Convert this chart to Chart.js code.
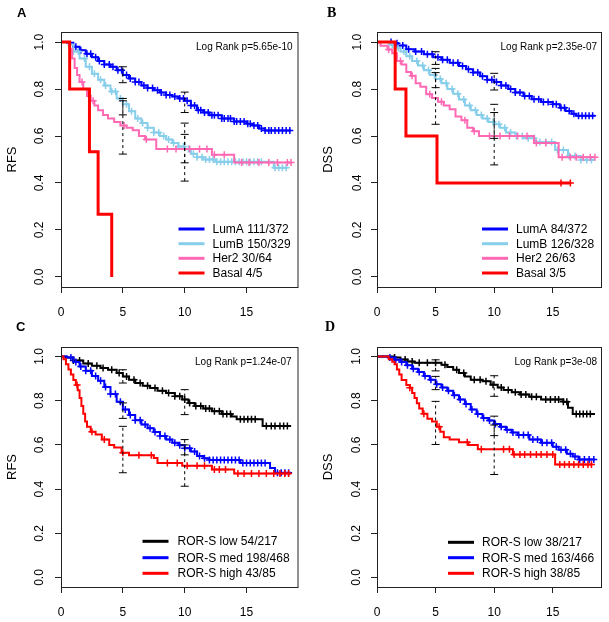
<!DOCTYPE html>
<html>
<head>
<meta charset="utf-8">
<script src="https://cdn.jsdelivr.net/npm/chart.js@4.4.1/dist/chart.umd.min.js"></script>
<style>
  body { margin: 0; background: #fff; }
  #wrap { position: relative; width: 609px; height: 622px; overflow: hidden; }
  canvas { position: absolute; }
</style>
</head>
<body>
<div id="wrap">
  <canvas id="cA" width="304" height="322" style="left:0;top:0"></canvas>
  <canvas id="cB" width="305" height="322" style="left:304px;top:0"></canvas>
  <canvas id="cC" width="304" height="311" style="left:0;top:311px"></canvas>
  <canvas id="cD" width="305" height="311" style="left:304px;top:311px"></canvas>
</div>
<script>
// ejes comunes
const xTicks = [0, 5, 10, 15];
const yTicks = [0, 0.2, 0.4, 0.6, 0.8, 1.0];
const ciTimes = [5, 10];

// Panel A - RFS por subtipo
const aLumATime = [0.5,1.0,1.5,2.0,2.5,3.0,3.5,4.0,4.5,5.0,5.5,6.0,6.5,7.0,7.5,8.0,8.5,9.0,9.5,10.0,10.5,11.0,11.5,12.0,13.0,14.0,15.0,15.5,16.0,16.5];
const aLumASurv = [0.997,0.98,0.965,0.95,0.935,0.92,0.905,0.895,0.88,0.86,0.845,0.83,0.815,0.805,0.795,0.785,0.775,0.768,0.76,0.75,0.73,0.71,0.70,0.688,0.675,0.662,0.652,0.645,0.632,0.624];
const aLumACens = [1.2,1.6,2.1,2.4,2.8,3.1,3.5,3.9,4.2,4.6,4.9,5.3,5.6,6.0,6.3,6.7,7.0,7.4,7.8,8.1,8.5,8.8,9.2,9.6,9.9,10.2,10.5,10.8,11.1,11.3,11.6,11.9,12.2,12.4,12.7,13.0,13.2,13.5,13.7,14.0,14.2,14.5,14.8,15.1,15.3,15.6,15.9,16.2,16.5,16.8,17.0,17.3,17.6,17.9,18.2,18.5];
const aLumBTime = [0.6,1.0,1.5,2.0,2.5,3.0,3.5,4.0,4.5,5.0,5.5,6.0,6.5,7.0,7.5,8.0,8.5,9.0,9.5,10.0,10.5,11.0,11.5,12.5,17.2];
const aLumBSurv = [0.99,0.96,0.93,0.895,0.865,0.84,0.815,0.79,0.76,0.735,0.705,0.675,0.655,0.635,0.615,0.60,0.585,0.57,0.555,0.545,0.525,0.51,0.50,0.49,0.465];
const aLumBCens = [1.0,1.4,1.9,2.3,2.7,3.2,3.6,4.1,4.4,4.8,5.3,5.7,6.2,6.6,7.0,7.5,7.9,8.3,8.7,9.1,9.5,9.9,10.3,10.7,11.0,11.4,11.7,12.0,12.3,12.6,12.9,13.2,13.5,13.8,14.1,14.4,14.7,15.0,15.3,15.6,15.9,16.2,17.3,17.6,17.9,18.2];
const aHer2Time = [0.7,0.9,1.1,1.3,1.5,1.8,2.1,2.4,2.7,3.0,3.4,3.8,4.3,4.8,5.3,5.8,6.3,6.8,7.7,12.2,14.0];
const aHer2Surv = [0.97,0.93,0.89,0.86,0.83,0.80,0.77,0.75,0.73,0.71,0.69,0.675,0.66,0.645,0.635,0.625,0.60,0.585,0.545,0.52,0.487];
const aHer2Cens = [1.7,2.6,5.1,6.9,8.6,9.3,10.4,11.2,11.8,12.4,13.2,14.6,15.2,16.0,16.8,17.5,18.3,18.6];
const aBasalTime = [0.7,2.3,3.0,4.1];
const aBasalSurv = [0.8,0.533,0.267,0];
const aBasalCens = [];
const aCiLow = { LumA: [0.827,0.70], LumB: [0.69,0.486], Her2: [0.523,0.408] };
const aCiHigh = { LumA: [0.895,0.787], LumB: [0.76,0.607], Her2: [0.75,0.655] };

// Panel B - DSS por subtipo
const bLumATime = [1.3,1.8,2.5,3.2,4.0,4.8,5.5,6.2,7.0,7.6,8.2,8.8,9.4,10.0,10.6,11.2,11.8,12.5,13.2,14.0,15.0,15.6,16.1,16.6,17.0];
const bLumASurv = [0.995,0.985,0.97,0.96,0.948,0.935,0.925,0.912,0.898,0.884,0.87,0.855,0.84,0.83,0.815,0.80,0.785,0.77,0.757,0.745,0.735,0.72,0.707,0.695,0.686];
const bLumACens = [1.2,1.7,2.2,2.7,3.3,3.8,4.3,4.7,5.2,5.6,6.0,6.5,6.9,7.3,7.8,8.2,8.6,9.0,9.4,9.8,10.2,10.6,11.0,11.4,11.8,12.2,12.6,13.0,13.4,13.8,14.2,14.6,15.0,15.3,15.7,16.0,16.4,16.8,17.2,17.5,17.8,18.1,18.4];
const bLumBTime = [1.0,1.5,2.0,2.5,3.0,3.5,4.0,4.5,5.0,5.5,6.0,6.5,7.0,7.5,8.0,8.5,9.0,9.5,10.0,10.5,11.0,11.8,12.5,13.5,15.2,16.3,17.4];
const bLumBSurv = [0.99,0.975,0.96,0.94,0.92,0.9,0.88,0.86,0.843,0.825,0.80,0.78,0.755,0.73,0.71,0.69,0.675,0.66,0.65,0.635,0.615,0.60,0.59,0.575,0.54,0.515,0.498];
const bLumBCens = [1.3,1.8,2.3,2.8,3.4,3.9,4.4,4.9,5.4,5.9,6.4,6.9,7.4,7.9,8.4,8.9,9.4,9.9,10.4,10.9,11.4,11.9,12.4,12.9,13.4,13.9,14.4,14.9,15.4,15.9,16.4,16.9,17.4,17.9,18.3];
const bHer2Time = [0.3,0.9,1.3,1.7,2.1,2.5,2.9,3.3,3.7,4.2,4.7,5.2,5.7,6.2,6.7,7.2,7.7,8.2,8.7,13.4,15.5];
const bHer2Surv = [0.984,0.968,0.952,0.92,0.905,0.873,0.857,0.825,0.81,0.778,0.762,0.746,0.73,0.714,0.683,0.667,0.635,0.62,0.60,0.57,0.51];
const bHer2Cens = [1.0,2.0,3.0,4.5,5.5,7.5,8.3,9.6,10.5,11.3,12.0,12.8,13.6,14.4,15.8,16.5,17.0,17.6,18.2,18.6];
const bBasalTime = [1.55,2.47,5.12];
const bBasalSurv = [0.8,0.6,0.4];
const bBasalCens = [15.7,16.5];
const bCiLow = { LumA: [0.905,0.796], LumB: [0.806,0.59], Her2: [0.65,0.477] };
const bCiHigh = { LumA: [0.959,0.867], LumB: [0.888,0.70], Her2: [0.87,0.735] };

// Panel C - RFS por ROR-S
const cLowTime = [0.4,1.0,1.8,2.5,3.2,3.8,4.5,5.0,5.5,6.0,6.6,7.2,7.8,8.5,9.2,9.8,10.3,10.8,11.5,12.2,13.0,13.8,14.2,16.3];
const cLowSurv = [0.995,0.982,0.968,0.958,0.948,0.94,0.925,0.91,0.895,0.88,0.868,0.857,0.845,0.835,0.82,0.805,0.79,0.776,0.765,0.752,0.74,0.728,0.716,0.686];
const cLowCens = [1.0,1.5,2.2,2.9,3.4,4.1,4.7,5.3,5.9,6.4,7.0,7.6,8.2,8.7,9.2,9.6,10.0,10.4,10.9,11.3,11.7,12.0,12.4,12.8,13.1,13.4,13.7,14.5,14.8,15.1,15.4,15.7,16.6,17.0,17.3,17.7,18.0,18.3];
const cMedTime = [0.5,1.0,1.5,2.0,2.5,3.0,3.5,4.0,4.5,5.0,5.5,6.0,6.5,7.0,7.5,8.0,8.5,9.0,9.5,10.0,10.5,11.0,11.5,12.0,14.5,16.9,17.3];
const cMedSurv = [0.995,0.975,0.955,0.935,0.912,0.89,0.862,0.83,0.795,0.76,0.735,0.712,0.692,0.675,0.658,0.64,0.625,0.61,0.598,0.585,0.57,0.55,0.54,0.532,0.518,0.496,0.474];
const cMedCens = [0.8,1.2,1.6,2.0,2.4,2.8,3.2,3.6,4.0,4.4,4.8,5.2,5.6,6.0,6.4,6.8,7.2,7.6,8.0,8.4,8.8,9.2,9.6,10.0,10.4,10.8,11.2,11.6,12.0,12.3,12.6,12.9,13.2,13.5,13.8,14.1,14.4,14.7,15.0,15.3,15.6,15.9,16.2,16.5,17.5,17.8,18.1,18.4];
const cHighTime = [0.2,0.4,0.6,0.8,1.0,1.2,1.35,1.5,1.65,1.8,1.95,2.1,2.4,2.8,3.3,3.9,4.3,4.9,5.5,7.5,7.8,9.8,12.2,14.0];
const cHighSurv = [0.988,0.965,0.941,0.918,0.894,0.871,0.847,0.812,0.776,0.741,0.706,0.682,0.659,0.647,0.624,0.60,0.588,0.565,0.553,0.541,0.518,0.506,0.489,0.471];
const cHighCens = [1.3,2.5,3.5,5.0,6.3,7.3,8.6,9.4,10.2,11.0,11.6,12.4,12.8,13.3,14.3,14.8,15.4,16.0,16.6,17.2,17.7,18.1,18.4];
const cCiLow = { Low: [0.88,0.737], Med: [0.72,0.555], High: [0.474,0.413] };
const cCiHigh = { Low: [0.94,0.85], Med: [0.79,0.624], High: [0.684,0.60] };

// Panel D - DSS por ROR-S
const dLowTime = [1.4,2.0,2.6,3.2,5.5,6.0,6.5,7.0,7.5,8.0,9.0,9.7,10.3,10.8,11.5,12.2,13.0,14.0,15.9,16.3,16.7];
const dLowSurv = [0.995,0.986,0.977,0.972,0.963,0.952,0.94,0.925,0.91,0.895,0.888,0.872,0.86,0.848,0.838,0.828,0.818,0.805,0.795,0.768,0.74];
const dLowCens = [1.5,2.4,3.0,3.6,4.3,5.0,5.8,6.8,7.4,8.3,8.8,9.3,9.9,10.6,11.2,11.8,12.3,12.7,13.2,13.6,14.4,14.8,15.2,15.5,15.9,16.2,17.0,17.3,17.6,17.9,18.2];
const dMedTime = [1.0,1.5,2.0,2.5,3.0,3.5,4.0,4.5,5.0,5.5,6.0,6.5,7.0,7.5,8.0,8.5,9.0,9.5,10.0,10.5,11.0,11.5,12.0,13.0,14.0,15.0,15.5,16.2,16.7,17.2];
const dMedSurv = [0.995,0.985,0.975,0.96,0.945,0.93,0.912,0.895,0.875,0.86,0.845,0.825,0.805,0.785,0.76,0.74,0.722,0.71,0.695,0.682,0.668,0.656,0.645,0.625,0.61,0.592,0.578,0.56,0.548,0.534];
const dMedCens = [1.1,1.6,2.1,2.6,3.1,3.6,4.1,4.6,5.1,5.6,6.1,6.6,7.1,7.6,8.1,8.6,9.1,9.6,10.1,10.6,11.1,11.6,12.1,12.5,12.9,13.3,13.7,14.1,14.5,14.9,15.3,15.7,16.1,16.5,16.9,17.3,17.7,18.1,18.5];
const dHighTime = [1.0,1.3,1.5,1.7,1.9,2.1,2.5,2.8,3.0,3.2,3.4,3.6,3.9,4.3,4.7,5.1,5.4,5.7,6.2,7.0,7.8,8.6,11.6,15.2];
const dHighSurv = [0.988,0.976,0.965,0.941,0.918,0.894,0.871,0.859,0.835,0.812,0.788,0.765,0.741,0.718,0.706,0.682,0.659,0.635,0.624,0.612,0.60,0.58,0.556,0.511];
const dHighCens = [2.8,4.0,5.3,7.7,8.9,10.8,11.3,11.7,12.2,12.6,13.1,13.6,14.0,14.5,15.0,15.6,16.0,16.4,16.8,17.2,17.6,18.0,18.3];
const dCiLow = { Low: [0.935,0.82], Med: [0.85,0.642], High: [0.602,0.466] };
const dCiHigh = { Low: [0.985,0.913], Med: [0.91,0.73], High: [0.797,0.69] };

const FONT = '"Liberation Sans", Arial, sans-serif';

// curva escalonada: arranca en 1 y se prolonga hasta el final
const kmPuntos = (tiempos, surv, fin) => {
  const pts = [{ x: 0, y: 1 }];
  tiempos.forEach((t, i) => pts.push({ x: t, y: surv[i] }));
  if (fin > tiempos[tiempos.length - 1]) pts.push({ x: fin, y: surv[surv.length - 1] });
  return pts;
};

const valorEn = (tiempos, surv, t) => {
  let v = 1;
  tiempos.forEach((ti, i) => { if (ti <= t) v = surv[i]; });
  return v;
};

const paneles = [
  {
    id: 'cA', letra: 'A', serif: false, titulo: 'RFS', pval: 'Log Rank p=5.65e-10',
    area: { left: 61, top: 32, right: 303, bottom: 287 }, yPad: 7, tituloPad: 5,
    leyenda: { linea: -120, texto: -86, filas: [-58, -43.3, -28.7, -14] },
    letraPos: [17, 17], pvalPos: [-6, 15],
    ciBajo: aCiLow, ciAlto: aCiHigh,
    curvas: [
      { nombre: 'LumA', label: 'LumA 111/372', color: '#0000FF', ancho: 2, t: aLumATime, s: aLumASurv, c: aLumACens, fin: 18.6 },
      { nombre: 'LumB', label: 'LumB 150/329', color: '#87CEEB', ancho: 2, t: aLumBTime, s: aLumBSurv, c: aLumBCens, fin: 18.3 },
      { nombre: 'Her2', label: 'Her2 30/64', color: '#FF69B4', ancho: 2, t: aHer2Time, s: aHer2Surv, c: aHer2Cens, fin: 18.6 },
      { nombre: 'Basal', label: 'Basal 4/5', color: '#FF0000', ancho: 3, t: aBasalTime, s: aBasalSurv, c: aBasalCens, fin: 4.1 },
    ],
  },
  {
    id: 'cB', letra: 'B', serif: true, titulo: 'DSS', pval: 'Log Rank p=2.35e-07',
    area: { left: 73, top: 32, right: 298, bottom: 287 }, yPad: 4.5, tituloPad: 16.5,
    leyenda: { linea: -120, texto: -86, filas: [-58, -43.3, -28.7, -14] },
    letraPos: [23, 17], pvalPos: [-5, 15],
    ciBajo: bCiLow, ciAlto: bCiHigh,
    curvas: [
      { nombre: 'LumA', label: 'LumA 84/372', color: '#0000FF', ancho: 2, t: bLumATime, s: bLumASurv, c: bLumACens, fin: 18.6 },
      { nombre: 'LumB', label: 'LumB 126/328', color: '#87CEEB', ancho: 2, t: bLumBTime, s: bLumBSurv, c: bLumBCens, fin: 18.6 },
      { nombre: 'Her2', label: 'Her2 26/63', color: '#FF69B4', ancho: 2, t: bHer2Time, s: bHer2Surv, c: bHer2Cens, fin: 18.6 },
      { nombre: 'Basal', label: 'Basal 3/5', color: '#FF0000', ancho: 3, t: bBasalTime, s: bBasalSurv, c: bBasalCens, fin: 16.5 },
    ],
  },
  {
    id: 'cC', letra: 'C', serif: false, titulo: 'RFS', pval: 'Log Rank p=1.24e-07',
    area: { left: 61, top: 36, right: 303, bottom: 276 }, yPad: 7, tituloPad: 5,
    leyenda: { linea: -156, texto: -121, filas: [-45.7, -29.3, -13.7] },
    letraPos: [16, 20], pvalPos: [-7, 15],
    ciBajo: cCiLow, ciAlto: cCiHigh,
    curvas: [
      { nombre: 'Low', label: 'ROR-S low 54/217', color: '#000000', ancho: 2, t: cLowTime, s: cLowSurv, c: cLowCens, fin: 18.6 },
      { nombre: 'Med', label: 'ROR-S med 198/468', color: '#0000FF', ancho: 2, t: cMedTime, s: cMedSurv, c: cMedCens, fin: 18.6 },
      { nombre: 'High', label: 'ROR-S high 43/85', color: '#FF0000', ancho: 2, t: cHighTime, s: cHighSurv, c: cHighCens, fin: 18.6 },
    ],
  },
  {
    id: 'cD', letra: 'D', serif: true, titulo: 'DSS', pval: 'Log Rank p=3e-08',
    area: { left: 73, top: 36, right: 298, bottom: 276 }, yPad: 5.5, tituloPad: 16.5,
    leyenda: { linea: -154, texto: -120, filas: [-44.7, -29.3, -13.7] },
    letraPos: [21, 20], pvalPos: [-5, 15],
    ciBajo: dCiLow, ciAlto: dCiHigh,
    curvas: [
      { nombre: 'Low', label: 'ROR-S low 38/217', color: '#000000', ancho: 2, t: dLowTime, s: dLowSurv, c: dLowCens, fin: 18.6 },
      { nombre: 'Med', label: 'ROR-S med 163/466', color: '#0000FF', ancho: 2, t: dMedTime, s: dMedSurv, c: dMedCens, fin: 18.6 },
      { nombre: 'High', label: 'ROR-S high 38/85', color: '#FF0000', ancho: 2, t: dHighTime, s: dHighSurv, c: dHighCens, fin: 18.4 },
    ],
  },
];

// caja, p-valor, letra del panel y leyenda
const decorado = {
  id: 'decorado',
  afterDraw(chart, args, opts) {
    const p = opts.panel;
    const { ctx, chartArea: a } = chart;
    ctx.save();
    ctx.strokeStyle = '#222';
    ctx.lineWidth = 1;
    ctx.strokeRect(a.left + 0.5, a.top + 0.5, a.right - a.left - 1, a.bottom - a.top);

    ctx.fillStyle = '#000';
    ctx.font = '10px ' + FONT;
    ctx.textAlign = 'right';
    ctx.textBaseline = 'middle';
    ctx.fillText(p.pval, a.right + p.pvalPos[0], a.top + p.pvalPos[1]);

    ctx.font = p.serif ? 'bold 14px "Liberation Serif", serif' : 'bold 13px ' + FONT;
    ctx.textAlign = 'left';
    ctx.textBaseline = 'alphabetic';
    ctx.fillText(p.letra, p.letraPos[0], p.letraPos[1]);

    ctx.font = '12px ' + FONT;
    ctx.textBaseline = 'middle';
    p.curvas.forEach((cv, i) => {
      const y = a.bottom + p.leyenda.filas[i];
      ctx.strokeStyle = cv.color;
      ctx.lineWidth = 3;
      ctx.beginPath();
      ctx.moveTo(a.right + p.leyenda.linea, y);
      ctx.lineTo(a.right + p.leyenda.linea + 26, y);
      ctx.stroke();
      ctx.fillText(cv.label, a.right + p.leyenda.texto, y + 0.5);
    });
    ctx.restore();
  },
};

const armarDatasets = (p) => {
  const ds = [];
  // barras de IC en negro punteado, por encima de todo
  p.curvas.forEach(cv => {
    if (!p.ciBajo[cv.nombre]) return;
    ciTimes.forEach((t, k) => {
      ds.push({
        type: 'line',
        data: [{ x: t, y: p.ciBajo[cv.nombre][k] }, { x: t, y: p.ciAlto[cv.nombre][k] }],
        borderColor: '#000', borderWidth: 1, borderDash: [3, 3],
        pointStyle: 'line', pointRadius: 4, pointBorderWidth: 1, pointBorderColor: '#000',
        order: 0,
      });
    });
  });
  const n = p.curvas.length;
  p.curvas.forEach((cv, i) => {
    ds.push({
      type: 'line',
      label: cv.label,
      data: kmPuntos(cv.t, cv.s, cv.fin),
      stepped: true,
      borderColor: cv.color, borderWidth: cv.ancho,
      pointRadius: 0, fill: false,
      order: 10 + (n - i) * 2,
    });
    ds.push({
      type: 'scatter',
      data: cv.c.map(c => ({ x: c, y: valorEn(cv.t, cv.s, c) })),
      showLine: false,
      pointStyle: 'cross', pointRadius: 3.5, pointBorderWidth: 1.5,
      borderColor: cv.color, backgroundColor: cv.color,
      order: 9 + (n - i) * 2,
    });
  });
  return ds;
};

paneles.forEach(p => {
  const canvas = document.getElementById(p.id);
  const W = canvas.width, H = canvas.height;
  new Chart(canvas.getContext('2d'), {
    type: 'line',
    data: { datasets: armarDatasets(p) },
    options: {
      responsive: false,
      animation: false,
      events: [],
      layout: { padding: { left: 0, top: p.area.top, right: W - p.area.right, bottom: 0 } },
      plugins: { legend: { display: false }, tooltip: { enabled: false }, decorado: { panel: p } },
      scales: {
        x: {
          type: 'linear', min: 0, max: 19.2,
          afterBuildTicks: s => { s.ticks = xTicks.map(v => ({ value: v })); },
          afterFit: s => { s.height = H - p.area.bottom; },
          ticks: { font: { family: FONT, size: 12 }, color: '#000', padding: 12, autoSkip: false, maxRotation: 0, callback: v => String(v) },
          grid: { drawOnChartArea: false, drawTicks: true, tickLength: 6, color: '#222' },
          border: { display: false },
        },
        y: {
          type: 'linear', min: -0.043, max: 1.043,
          afterBuildTicks: s => { s.ticks = yTicks.map(v => ({ value: v })); },
          afterFit: s => { s.width = p.area.left; },
          ticks: { font: { family: FONT, size: 12 }, color: '#000', padding: p.yPad, minRotation: 90, maxRotation: 90, crossAlign: 'center', callback: v => v.toFixed(1) },
          grid: { drawOnChartArea: false, drawTicks: true, tickLength: 6, color: '#222' },
          border: { display: false },
          title: { display: true, text: p.titulo, font: { family: FONT, size: 13 }, color: '#000', padding: { top: p.tituloPad, bottom: 0 } },
        },
      },
    },
    plugins: [decorado],
  });
});
</script>
</body>
</html>
